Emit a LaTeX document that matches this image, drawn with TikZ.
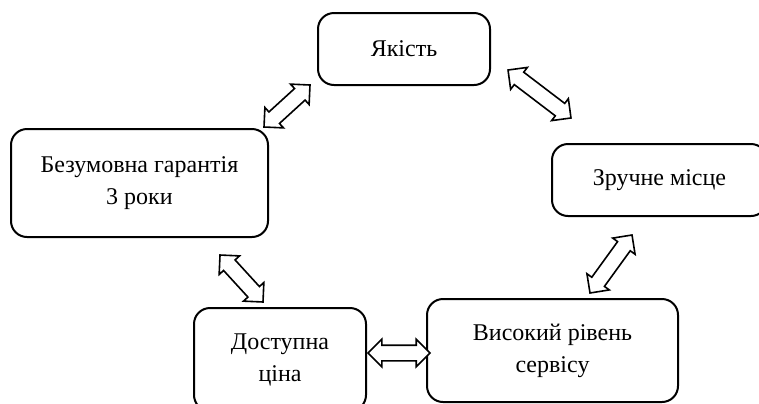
\documentclass[tikz,border=0pt]{standalone}
\usepackage{fontspec}
\setmainfont{Liberation Serif}
\usetikzlibrary{shapes.arrows,calc}
\tikzset{
    factor/.style={rectangle, draw, line width=1pt, rounded corners=8pt, align=center, font=\fontsize{12}{16}\selectfont, inner sep=2pt},
    dblarrow/.style={double arrow, draw, line width=0.8pt, fill=white, inner xsep=0pt, inner ysep=3.5pt, double arrow head extend=3pt},
}
\newcommand{\linkarrow}[3]{%
  \path let \p1=($(#2)-(#1)$), \n1={veclen(\x1,\y1)}, \n2={atan2(\y1,\x1)} in
    node[dblarrow, minimum height=\n1, rotate=\n2] (#3) at ($(#1)!0.5!(#2)$) {};}

\begin{document}
\begin{tikzpicture}[x=0.5pt, y=-0.5pt]
\clip (0,0) rectangle (759,403);

% Boxes
\node[factor, minimum width=86pt, minimum height=36pt] (quality) at (404,49) {Якість};
\node[factor, minimum width=128.5pt, minimum height=54pt] (warranty) at (139.5,183) {Безумовна гарантія\\3 роки};
\node[factor, minimum width=107.5pt, minimum height=36pt] (place) at (659.5,180) {Зручне місце};
\node[factor, minimum width=86pt, minimum height=51.5pt] (price) at (280,359.5) {Доступна\\ціна};
\node[factor, minimum width=125.5pt, minimum height=51.5pt] (service) at (552.5,350.5) {Високий рівень\\сервісу};

% Arrow ends
\coordinate (wq1) at (264,127);
\coordinate (wq2) at (310,85);
\coordinate (qp1) at (508,70);
\coordinate (qp2) at (571,118);
\coordinate (wp1) at (220,255);
\coordinate (wp2) at (263,302);
\coordinate (ps1) at (368,353);
\coordinate (ps2) at (430,353);
\coordinate (sp1) at (590,293);
\coordinate (sp2) at (632,235);

% Links
\linkarrow{wq1}{wq2}{warranty-quality}
\linkarrow{qp1}{qp2}{quality-place}
\linkarrow{wp1}{wp2}{warranty-price}
\linkarrow{ps1}{ps2}{price-service}
\linkarrow{sp1}{sp2}{service-place}

\end{tikzpicture}
\end{document}
